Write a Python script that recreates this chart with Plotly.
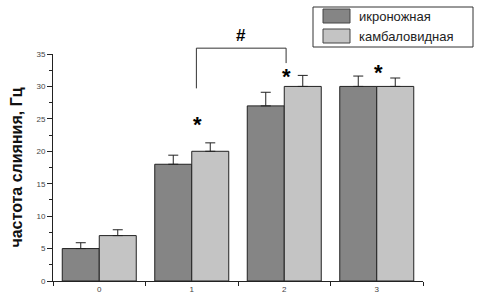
import plotly.graph_objects as go

categories = ["0", "1", "2", "3"]
series_names = ["икроножная", "камбаловидная"]
ikro = [5, 18, 27, 30]
ikro_err = [0.9, 1.4, 2.1, 1.6]
kamb = [7, 20, 30, 30]
kamb_err = [0.9, 1.3, 1.7, 1.3]
star_pos = [None, 26.3, 33.8, 34.4]
bracket = {"left": 1, "right": 2, "left_bottom": 29.7, "right_bottom": 33.6, "top": 35.9, "label_y": 39.6}

colors = ["#858585", "#c4c4c4"]
YMAX = 35
L, R, T, B, W, H = 53, 54, 54, 16, 477, 297
PW, PH = W - L - R, H - T - B
star_dx = [0, 0.065, 0.02, 0.02]

def py(v):
    return v / YMAX

def px_x(p):
    return (p - L) / PW

def px_y(p):
    return (H - B - p) / PH

fig = go.Figure()
for name, vals, errs, col in zip(series_names, [ikro, kamb], [ikro_err, kamb_err], colors):
    fig.add_bar(name=name, x=categories, y=vals, showlegend=False,
                marker=dict(color=col, line=dict(color="#222222", width=1)),
                error_y=dict(type="data", array=errs, arrayminus=[0] * len(errs), symmetric=False,
                             color="#222222", thickness=1, width=5))

for i, s in enumerate(star_pos):
    if s is None:
        continue
    fig.add_annotation(x=i + star_dx[i], y=py(s), xref="x", yref="paper", text="<b>*</b>",
                       showarrow=False, font=dict(size=22, color="black", family="Liberation Sans"))

xl = bracket["left"]
xr = bracket["right"]
fig.add_shape(type="line", xref="x", yref="paper", x0=xl + 0.05, x1=xl + 0.05,
              y0=py(bracket["left_bottom"]), y1=py(bracket["top"]), line=dict(color="#333", width=1))
fig.add_shape(type="line", xref="x", yref="paper", x0=xl + 0.05, x1=xr + 0.02,
              y0=py(bracket["top"]), y1=py(bracket["top"]), line=dict(color="#333", width=1))
fig.add_shape(type="line", xref="x", yref="paper", x0=xr + 0.02, x1=xr + 0.02,
              y0=py(bracket["right_bottom"]), y1=py(bracket["top"]), line=dict(color="#333", width=1))
fig.add_annotation(x=(xl + xr) / 2 + 0.03, y=py(bracket["label_y"]), xref="x", yref="paper",
                   text="<b>#</b>", showarrow=False, font=dict(size=17, color="black", family="Liberation Sans"))

# legend box (drawn manually to match the reference look)
fig.add_shape(type="rect", xref="paper", yref="paper", x0=px_x(313), x1=px_x(473),
              y0=px_y(47), y1=px_y(7), line=dict(color="#333", width=1), fillcolor="white")
for k, (name, col) in enumerate(zip(series_names, colors)):
    top = 9 + k * 20
    fig.add_shape(type="rect", xref="paper", yref="paper", x0=px_x(323), x1=px_x(350),
                  y0=px_y(top + 14), y1=px_y(top), line=dict(color="#444", width=1), fillcolor=col)
    fig.add_annotation(xref="paper", yref="paper", x=px_x(357), y=px_y(top + 7), text=name,
                       xanchor="left", yanchor="middle", showarrow=False,
                       font=dict(size=13, color="#222", family="Liberation Sans"))

fig.update_layout(
    width=W, height=H,
    margin=dict(l=L, r=R, t=T, b=B, autoexpand=False),
    plot_bgcolor="white", paper_bgcolor="white",
    barmode="group", bargap=0.2, bargroupgap=0,
    font=dict(family="Liberation Sans", size=8, color="#444"),
    showlegend=False,
    xaxis=dict(type="category", range=[-0.5, 3.5], showline=True, linecolor="#222", linewidth=1,
               ticks="outside", tickson="boundaries", ticklen=4, tickcolor="#222",
               showgrid=False, tickfont=dict(size=8, color="#444")),
    yaxis=dict(range=[0, YMAX], showline=True, linecolor="#222", linewidth=1,
               ticks="outside", ticklen=5, tickcolor="#222", dtick=5, showgrid=False, zeroline=False,
               minor=dict(ticks="outside", ticklen=3, dtick=2.5, tickcolor="#222"),
               tickfont=dict(size=8, color="#444"),
               title=dict(text="<b>частота слияния, Гц</b>", font=dict(size=16, color="#111"), standoff=9)),
)

fig.write_html("out.html", config={"displayModeBar": False},
               post_script="document.body.style.margin='0';document.body.style.overflow='hidden';")
